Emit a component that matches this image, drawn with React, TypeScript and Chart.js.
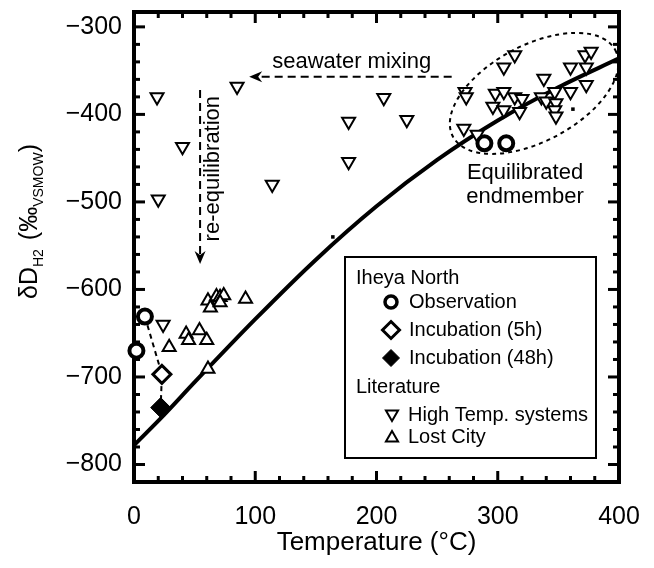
import React, { useEffect, useRef } from 'react';
import { Chart, registerables } from 'chart.js';

Chart.register(...registerables);

const FONT = '"Liberation Sans", Arial, Helvetica, sans-serif';

// ---- Axis ranges and labels ----
const X_MIN = 0;
const X_MAX = 400;
const Y_MIN = -820;
const Y_MAX = -283;
const xLabelValues = [0, 100, 200, 300, 400];
const yLabelValues = [-800, -700, -600, -500, -400, -300];

// ---- Data (Temperature °C, δD ‰) ----
const observationT = [2, 9, 289, 307];
const observationD = [-670, -631, -433, -433];

const incubation5hT = [23];
const incubation5hD = [-697];

const incubation48hT = [22];
const incubation48hD = [-735];

const linkT = [9, 23, 22];
const linkD = [-631, -697, -735];

const highTempT = [
  19, 20, 40, 85, 114, 177, 177, 206, 225, 24,
  273, 274, 272, 283, 298, 305, 296, 305, 314, 320, 318, 305, 314, 338, 336,
  340, 347, 348, 347, 348, 360, 360, 373, 373, 372, 377,
];
const highTempD = [
  -380, -497, -437, -368, -480, -408, -454, -381, -406, -640,
  -374, -380, -416, -423, -376, -374, -391, -395, -380, -382, -397, -346, -332, -359, -380,
  -385, -374, -387, -395, -402, -374, -346, -346, -366, -332, -328,
];

const lostCityT = [61, 63, 68, 71, 74, 71, 92, 43, 45, 54, 60, 29, 61];
const lostCityD = [-613, -621, -608, -609, -607, -615, -611, -651, -658, -647, -658, -666, -691];

const equilibriumT = [0, 25, 50, 100, 150, 200, 250, 300, 350, 400];
const equilibriumD = [-778, -743, -706, -634, -566, -505, -452, -407, -369, -336];

const minorMarkT = [164, 362];
const minorMarkD = [-540, -394];

const toXY = (xs: number[], ys: number[]) => xs.map((x, i) => ({ x, y: ys[i] }));

const fmt = (v: number) => (v < 0 ? '\u2212' + Math.abs(v) : String(v));

function drawSymbol(ctx: CanvasRenderingContext2D, kind: string, x: number, y: number) {
  ctx.save();
  ctx.setLineDash([]);
  ctx.strokeStyle = '#000';
  ctx.fillStyle = '#fff';
  ctx.beginPath();
  if (kind === 'circle') {
    ctx.lineWidth = 3.5;
    ctx.arc(x, y, 6, 0, Math.PI * 2);
    ctx.fill();
    ctx.stroke();
  } else if (kind === 'diamond' || kind === 'diamondFilled') {
    const r = 8.5;
    ctx.moveTo(x, y - r);
    ctx.lineTo(x + r, y);
    ctx.lineTo(x, y + r);
    ctx.lineTo(x - r, y);
    ctx.closePath();
    if (kind === 'diamondFilled') {
      ctx.fillStyle = '#000';
      ctx.lineWidth = 1;
    } else {
      ctx.lineWidth = 3;
    }
    ctx.fill();
    ctx.stroke();
  } else {
    const r = 7;
    const s = Math.sin(Math.PI / 3) * r;
    const dir = kind === 'triDown' ? 1 : -1;
    ctx.moveTo(x, y + dir * r);
    ctx.lineTo(x - s, y - dir * r / 2);
    ctx.lineTo(x + s, y - dir * r / 2);
    ctx.closePath();
    ctx.lineWidth = 2;
    ctx.fill();
    ctx.stroke();
  }
  ctx.restore();
}

function arrowHead(ctx: CanvasRenderingContext2D, tx: number, ty: number, angle: number) {
  ctx.save();
  ctx.setLineDash([]);
  ctx.translate(tx, ty);
  ctx.rotate(angle);
  ctx.fillStyle = '#000';
  ctx.beginPath();
  ctx.moveTo(0, 0);
  ctx.lineTo(13, -5.5);
  ctx.lineTo(9, 0);
  ctx.lineTo(13, 5.5);
  ctx.closePath();
  ctx.fill();
  ctx.restore();
}

const framePlugin = {
  id: 'frame',
  beforeDatasetsDraw(chart: any) {
    const { ctx, chartArea: a, scales } = chart;
    const xs = scales.x;
    const ys = scales.y;
    ctx.save();
    ctx.strokeStyle = '#000';
    ctx.lineWidth = 3;
    const seg = (x1: number, y1: number, x2: number, y2: number) => {
      ctx.beginPath();
      ctx.moveTo(x1, y1);
      ctx.lineTo(x2, y2);
      ctx.stroke();
    };
    for (let v = X_MIN; v <= X_MAX; v += 20) {
      const p = xs.getPixelForValue(v);
      const len = v % 100 === 0 ? 11 : 6;
      seg(p, a.bottom, p, a.bottom - len);
      seg(p, a.top, p, a.top + len);
    }
    for (let v = -820; v <= -300; v += 20) {
      const p = ys.getPixelForValue(v);
      const len = v % 100 === 0 ? 11 : 6;
      seg(a.left, p, a.left + len, p);
      seg(a.right, p, a.right - len, p);
    }
    ctx.lineWidth = 4;
    ctx.strokeRect(a.left, a.top, a.right - a.left, a.bottom - a.top);
    ctx.restore();
  },
};

const annotationPlugin = {
  id: 'annotations',
  afterDatasetsDraw(chart: any) {
    const { ctx, chartArea: a, scales } = chart;
    const px = (t: number) => scales.x.getPixelForValue(t);
    const py = (d: number) => scales.y.getPixelForValue(d);
    ctx.save();
    ctx.strokeStyle = '#000';
    ctx.fillStyle = '#000';

    // ellipse around equilibrated endmember
    ctx.lineWidth = 2;
    ctx.setLineDash([4, 4]);
    ctx.beginPath();
    ctx.ellipse(px(330), py(-376), 92, 48, (-28 * Math.PI) / 180, 0, Math.PI * 2);
    ctx.stroke();

    // seawater mixing arrow
    ctx.setLineDash([8, 5]);
    ctx.beginPath();
    ctx.moveTo(px(262), py(-357));
    ctx.lineTo(px(100), py(-357));
    ctx.stroke();
    arrowHead(ctx, px(95), py(-357), 0);

    // re-equilibration arrow
    ctx.setLineDash([8, 5]);
    ctx.beginPath();
    ctx.moveTo(px(54.5), py(-372));
    ctx.lineTo(px(54.5), py(-562));
    ctx.stroke();
    arrowHead(ctx, px(54.5), py(-571), -Math.PI / 2);

    ctx.setLineDash([]);
    ctx.font = `22px ${FONT}`;
    ctx.textBaseline = 'middle';
    ctx.textAlign = 'left';
    ctx.fillText('seawater mixing', px(114), py(-340));

    ctx.textAlign = 'center';
    ctx.fillText('Equilibrated', px(322.5), py(-467));
    ctx.fillText('endmember', px(322.5), py(-494));

    ctx.save();
    ctx.translate(px(65), py(-462));
    ctx.rotate(-Math.PI / 2);
    ctx.textAlign = 'center';
    ctx.fillText('re-equilibration', 0, 0);
    ctx.restore();

    // legend box
    const L = 345, T = 257, R = 596, B = 458;
    ctx.fillStyle = '#fff';
    ctx.fillRect(L, T, R - L, B - T);
    ctx.lineWidth = 2;
    ctx.strokeRect(L, T, R - L, B - T);
    ctx.fillStyle = '#000';
    ctx.font = `20px ${FONT}`;
    ctx.textAlign = 'left';
    ctx.fillText('Iheya North', 356, 278);
    drawSymbol(ctx, 'circle', 391, 302);
    ctx.fillText('Observation', 409, 302);
    drawSymbol(ctx, 'diamond', 391, 330);
    ctx.fillText('Incubation (5h)', 409, 330);
    drawSymbol(ctx, 'diamondFilled', 391, 358);
    ctx.fillText('Incubation (48h)', 409, 358);
    ctx.fillText('Literature', 356, 387);
    drawSymbol(ctx, 'triDown', 392, 414);
    ctx.fillText('High Temp. systems', 408, 415);
    drawSymbol(ctx, 'triUp', 392, 438);
    ctx.fillText('Lost City', 408, 437);

    // axis titles
    ctx.font = `26px ${FONT}`;
    ctx.textAlign = 'center';
    ctx.textBaseline = 'middle';
    ctx.fillText('Temperature (\u00B0C)', (a.left + a.right) / 2, 543);

    ctx.save();
    ctx.translate(37, 299);
    ctx.rotate(-Math.PI / 2);
    ctx.textAlign = 'left';
    ctx.textBaseline = 'alphabetic';
    let cx = 0;
    const part = (text: string, size: number, dy: number) => {
      ctx.font = `${size}px ${FONT}`;
      ctx.fillText(text, cx, dy);
      cx += ctx.measureText(text).width;
    };
    part('\u03B4D', 25, 0);
    part('H2', 14, 6);
    cx += 9;
    part('(\u2030', 25, 0);
    part('VSMOW', 14, 6);
    part(')', 25, 0);
    ctx.restore();

    ctx.restore();
  },
};

export default function App() {
  const ref = useRef<HTMLCanvasElement | null>(null);

  useEffect(() => {
    if (!ref.current) return;
    const marker = {
      showLine: false,
      borderColor: '#000',
      clip: false as any,
    };
    const zeroPad = (s: any) => {
      s.paddingTop = 0;
      s.paddingBottom = 0;
      s.paddingLeft = 0;
      s.paddingRight = 0;
    };
    const chart = new Chart(ref.current, {
      type: 'scatter',
      data: {
        datasets: [
          {
            ...marker,
            label: 'Observation',
            data: toXY(observationT, observationD),
            pointStyle: 'circle',
            pointRadius: 7,
            pointBorderWidth: 4,
            backgroundColor: '#fff',
            order: 1,
          },
          {
            ...marker,
            label: 'Incubation (5h)',
            data: toXY(incubation5hT, incubation5hD),
            pointStyle: 'rectRot',
            pointRadius: 9,
            pointBorderWidth: 3,
            backgroundColor: '#fff',
            order: 2,
          },
          {
            ...marker,
            label: 'Incubation (48h)',
            data: toXY(incubation48hT, incubation48hD),
            pointStyle: 'rectRot',
            pointRadius: 10,
            pointBorderWidth: 1,
            backgroundColor: '#000',
            order: 3,
          },
          {
            ...marker,
            label: 'High Temp. systems',
            data: toXY(highTempT, highTempD),
            pointStyle: 'triangle',
            pointRotation: 180,
            pointRadius: 7.5,
            pointBorderWidth: 2,
            backgroundColor: '#fff',
            order: 4,
          },
          {
            ...marker,
            label: 'Lost City',
            data: toXY(lostCityT, lostCityD),
            pointStyle: 'triangle',
            pointRadius: 7.5,
            pointBorderWidth: 2,
            backgroundColor: '#fff',
            order: 5,
          },
          {
            ...marker,
            label: 'minor',
            data: toXY(minorMarkT, minorMarkD),
            pointStyle: 'rect',
            pointRadius: 2.5,
            pointBorderWidth: 0,
            backgroundColor: '#000',
            order: 6,
          },
          {
            type: 'line' as any,
            label: 'link',
            data: toXY(linkT, linkD),
            showLine: true,
            borderColor: '#000',
            borderWidth: 2,
            borderDash: [5, 4],
            pointRadius: 0,
            fill: false,
            order: 8,
          },
          {
            type: 'line' as any,
            label: 'equilibrium',
            data: toXY(equilibriumT, equilibriumD),
            showLine: true,
            borderColor: '#000',
            borderWidth: 4,
            pointRadius: 0,
            cubicInterpolationMode: 'monotone',
            fill: false,
            order: 9,
          },
        ] as any,
      },
      options: {
        responsive: false,
        animation: false,
        devicePixelRatio: 1,
        layout: { padding: { top: 10, right: 35, left: 0, bottom: 0 } },
        plugins: {
          legend: { display: false },
          tooltip: { enabled: false },
        },
        scales: {
          x: {
            type: 'linear',
            min: X_MIN,
            max: X_MAX,
            grid: { display: false, drawTicks: false },
            border: { display: false },
            afterFit: (s: any) => {
              s.height = 86;
              zeroPad(s);
            },
            ticks: {
              stepSize: 20,
              includeBounds: false,
              autoSkip: false,
              maxRotation: 0,
              padding: 20,
              color: '#000',
              font: { family: FONT, size: 25 },
              callback: (v: any) => (xLabelValues.includes(Number(v)) ? fmt(Number(v)) : ''),
            },
          },
          y: {
            type: 'linear',
            min: Y_MIN,
            max: Y_MAX,
            grid: { display: false, drawTicks: false },
            border: { display: false },
            afterFit: (s: any) => {
              s.width = 134;
              zeroPad(s);
            },
            ticks: {
              stepSize: 20,
              includeBounds: false,
              autoSkip: false,
              padding: 12,
              color: '#000',
              font: { family: FONT, size: 25 },
              callback: (v: any) => (yLabelValues.includes(Number(v)) ? fmt(Number(v)) : ''),
            },
          },
        },
      },
      plugins: [framePlugin, annotationPlugin],
    });
    return () => chart.destroy();
  }, []);

  return (
    <div style={{ position: 'fixed', left: 0, top: 0, width: 654, height: 568, background: '#fff' }}>
      <canvas ref={ref} width={654} height={568} style={{ display: 'block' }} />
    </div>
  );
}
